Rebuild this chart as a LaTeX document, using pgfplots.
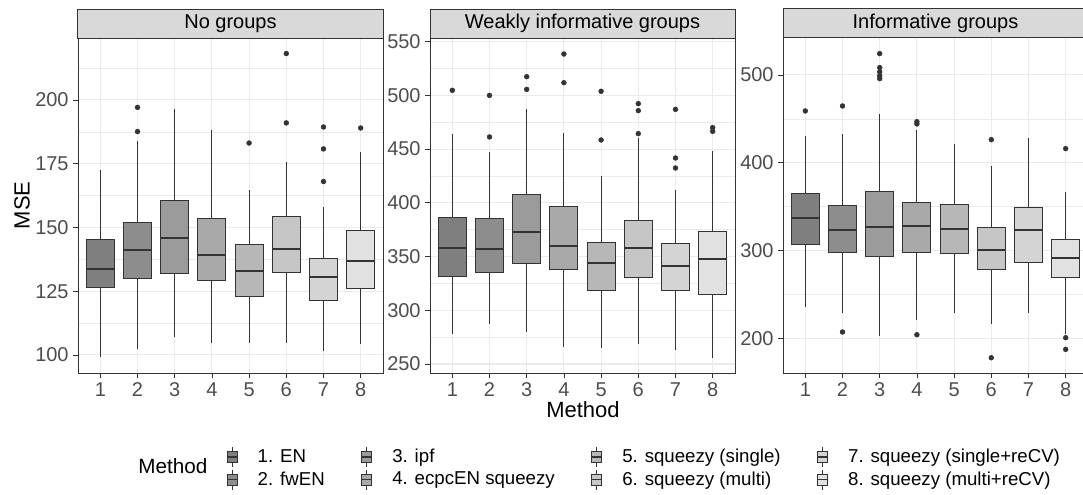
\documentclass[border=0pt]{standalone}
\usepackage{fontspec}
\setmainfont{Liberation Sans}
\usepackage{pgfplots}
\pgfplotsset{compat=1.18}
\usepgfplotslibrary{statistics}

\definecolor{g20}{HTML}{333333}
\definecolor{g30}{HTML}{4D4D4D}
\definecolor{gridc}{HTML}{EBEBEB}
\definecolor{stripc}{HTML}{D9D9D9}
\definecolor{f1}{RGB}{127,127,127}
\definecolor{f2}{RGB}{141,141,141}
\definecolor{f3}{RGB}{155,155,155}
\definecolor{f4}{RGB}{169,169,169}
\definecolor{f5}{RGB}{183,183,183}
\definecolor{f6}{RGB}{198,198,198}
\definecolor{f7}{RGB}{212,212,212}
\definecolor{f8}{RGB}{225,225,225}

\pgfplotsset{
  panel/.style={
    scale only axis, width=228.75pt, height=251.25pt,
    anchor=south west,
    xmin=0.4, xmax=8.6, xtick={1,...,8},
    xtick pos=bottom, ytick pos=left,
    axis line style={draw=g20, line width=0.75pt},
    tick style={draw=g20, line width=0.6pt},
    tick align=outside, major tick length=3.5pt, minor tick length=0pt,
    xmajorgrids, ymajorgrids, yminorgrids,
    major grid style={draw=gridc, line width=0.8pt},
    minor grid style={draw=gridc, line width=0.45pt},
    tick label style={font=\fontsize{15}{17}\selectfont, text=g30},
    /pgf/number format/assume math mode=true,
    every axis title/.style={at={(0.5,1)}, anchor=south, fill=stripc, draw=g20,
      line width=0.75pt, minimum width=228.75pt, minimum height=21.75pt,
      inner sep=0pt, outer sep=0pt, font=\fontsize{15}{17}\selectfont},
    boxplot/draw direction=y,
    boxplot/box extend=0.75,
    boxplot/whisker extend=0,
    boxplot/every median/.append style={line width=1.6pt},
    boxplot/every whisker/.append style={line width=0.7pt},
    boxplot/every box/.append style={line width=0.7pt},
  },
  bx/.style={draw=g20, fill=#1, mark=*, mark size=1.8pt,
    mark options={draw=g20, fill=g20},
    legend image code/.code={
      \path[draw=none, fill=none] (0pt,0pt) -- (23pt,0pt);
      \draw[g20, line width=0.6pt] (3.75pt,-7.5pt) -- (3.75pt,7.5pt);
      \draw[g20, line width=0.6pt, fill=#1] (0pt,-4.2pt) rectangle (7.5pt,4.2pt);
      \draw[g20, line width=1.2pt] (0pt,0pt) -- (7.5pt,0pt);
    }},
}

\begin{document}
\begin{tikzpicture}
\useasboundingbox (0,0) rectangle (812.25pt,370.5pt);

% panel 1
\begin{axis}[panel, at={(58.5pt,90.75pt)},
  title={No groups},
  ymin=92.9, ymax=224.3,
  ytick={100,125,150,175,200},
  minor ytick={112.5,137.5,162.5,187.5,212.5},
  legend columns=2, transpose legend, legend cell align=left,
  legend style={at={(0.4852,-0.218)}, anchor=north west, draw=none, fill=none,
    inner sep=0pt, font=\fontsize{14}{16}\selectfont,
    nodes={inner sep=0pt}, row sep=1.5pt,
    /tikz/every even column/.append style={column sep=27pt}},
]
\addplot[bx=f1, boxplot prepared={draw position=1, lower whisker=99.0, lower quartile=126.5, median=133.6, upper quartile=145.1, upper whisker=172.5}] coordinates {};
\addlegendentry{1. EN}
\addplot[bx=f2, boxplot prepared={draw position=2, lower whisker=102.4, lower quartile=130.1, median=141.2, upper quartile=152.0, upper whisker=183.9}] table[row sep=\\, y index=0] {197.1\\187.6\\};
\addlegendentry{2. fwEN}
\addplot[bx=f3, boxplot prepared={draw position=3, lower whisker=107.2, lower quartile=132.0, median=145.8, upper quartile=160.5, upper whisker=196.5}] coordinates {};
\addlegendentry{3. ipf}
\addplot[bx=f4, boxplot prepared={draw position=4, lower whisker=104.8, lower quartile=129.2, median=139.3, upper quartile=153.7, upper whisker=188.2}] coordinates {};
\addlegendentry{4. ecpcEN squeezy}
\addplot[bx=f5, boxplot prepared={draw position=5, lower whisker=104.8, lower quartile=123.0, median=132.9, upper quartile=143.3, upper whisker=164.7}] table[row sep=\\, y index=0] {183.1\\};
\addlegendentry{5. squeezy (single)}
\addplot[bx=f6, boxplot prepared={draw position=6, lower whisker=104.8, lower quartile=132.3, median=141.6, upper quartile=154.2, upper whisker=175.6}] table[row sep=\\, y index=0] {218.2\\191.0\\};
\addlegendentry{6. squeezy (multi)}
\addplot[bx=f7, boxplot prepared={draw position=7, lower whisker=101.7, lower quartile=121.3, median=130.7, upper quartile=138.0, upper whisker=158.2}] table[row sep=\\, y index=0] {189.4\\180.8\\168.0\\};
\addlegendentry{7. squeezy (single+reCV)}
\addplot[bx=f8, boxplot prepared={draw position=8, lower whisker=104.3, lower quartile=125.9, median=137.0, upper quartile=148.9, upper whisker=179.7}] table[row sep=\\, y index=0] {189.0\\};
\addlegendentry{8. squeezy (multi+reCV)}
\end{axis}

% panel 2
\begin{axis}[panel, at={(322.5pt,90.75pt)},
  title={Weakly informative groups},
  ymin=241.6, ymax=553.4,
  ytick={250,300,350,400,450,500,550},
  minor ytick={275,325,375,425,475,525},
]
\addplot[bx=f1, boxplot prepared={draw position=1, lower whisker=277.6, lower quartile=331.6, median=357.6, upper quartile=386.8, upper whisker=464.1}] table[row sep=\\, y index=0] {504.7\\};
\addplot[bx=f2, boxplot prepared={draw position=2, lower whisker=287.2, lower quartile=335.3, median=357.0, upper quartile=385.2, upper whisker=447.6}] table[row sep=\\, y index=0] {500.0\\461.3\\};
\addplot[bx=f3, boxplot prepared={draw position=3, lower whisker=280.1, lower quartile=343.1, median=372.8, upper quartile=407.9, upper whisker=487.3}] table[row sep=\\, y index=0] {517.4\\505.6\\};
\addplot[bx=f4, boxplot prepared={draw position=4, lower whisker=265.5, lower quartile=337.8, median=359.8, upper quartile=396.7, upper whisker=464.7}] table[row sep=\\, y index=0] {538.5\\511.8\\};
\addplot[bx=f5, boxplot prepared={draw position=5, lower whisker=265.2, lower quartile=318.8, median=344.0, upper quartile=363.2, upper whisker=425.0}] table[row sep=\\, y index=0] {503.8\\458.5\\};
\addplot[bx=f6, boxplot prepared={draw position=6, lower whisker=268.3, lower quartile=330.3, median=357.6, upper quartile=383.4, upper whisker=460.6}] table[row sep=\\, y index=0] {492.3\\485.8\\464.4\\};
\addplot[bx=f7, boxplot prepared={draw position=7, lower whisker=263.0, lower quartile=318.8, median=341.2, upper quartile=362.3, upper whisker=411.9}] table[row sep=\\, y index=0] {487.0\\441.7\\432.4\\};
\addplot[bx=f8, boxplot prepared={draw position=8, lower whisker=255.9, lower quartile=315.1, median=347.7, upper quartile=373.1, upper whisker=448.5}] table[row sep=\\, y index=0] {470.0\\466.5\\};
\end{axis}

% panel 3
\begin{axis}[panel, at={(587.25pt,90.75pt)},
  title={Informative groups},
  ymin=160.5, ymax=542.1,
  ytick={200,300,400,500},
  minor ytick={250,350,450},
]
\addplot[bx=f1, boxplot prepared={draw position=1, lower whisker=236.0, lower quartile=307.1, median=337.5, upper quartile=365.2, upper whisker=430.9}] table[row sep=\\, y index=0] {459.0\\};
\addplot[bx=f2, boxplot prepared={draw position=2, lower whisker=229.2, lower quartile=297.6, median=323.0, upper quartile=351.5, upper whisker=432.8}] table[row sep=\\, y index=0] {464.7\\207.2\\};
\addplot[bx=f3, boxplot prepared={draw position=3, lower whisker=202.6, lower quartile=293.0, median=327.2, upper quartile=367.8, upper whisker=455.6}] table[row sep=\\, y index=0] {524.3\\508.4\\503.4\\498.9\\495.8\\};
\addplot[bx=f4, boxplot prepared={draw position=4, lower whisker=220.9, lower quartile=297.9, median=327.9, upper quartile=355.3, upper whisker=437.3}] table[row sep=\\, y index=0] {446.8\\444.2\\204.1\\};
\addplot[bx=f5, boxplot prepared={draw position=5, lower whisker=229.2, lower quartile=296.8, median=324.2, upper quartile=353.0, upper whisker=421.4}] coordinates {};
\addplot[bx=f6, boxplot prepared={draw position=6, lower whisker=215.9, lower quartile=278.2, median=300.6, upper quartile=326.1, upper whisker=396.7}] table[row sep=\\, y index=0] {426.3\\177.9\\};
\addplot[bx=f7, boxplot prepared={draw position=7, lower whisker=229.2, lower quartile=286.9, median=323.4, upper quartile=349.2, upper whisker=428.6}] coordinates {};
\addplot[bx=f8, boxplot prepared={draw position=8, lower whisker=205.0, lower quartile=269.8, median=291.9, upper quartile=313.1, upper whisker=367.1}] table[row sep=\\, y index=0] {416.1\\200.7\\187.4\\};
\end{axis}

\node[rotate=90, font=\fontsize{16.5}{18}\selectfont] at (16.5pt,216.4pt) {MSE};
\node[anchor=base, font=\fontsize{16.5}{18}\selectfont] at (437.25pt,57.75pt) {Method};
\node[anchor=base east, font=\fontsize{15.5}{17}\selectfont] at (159pt,15.75pt) {Method};
\end{tikzpicture}
\end{document}
